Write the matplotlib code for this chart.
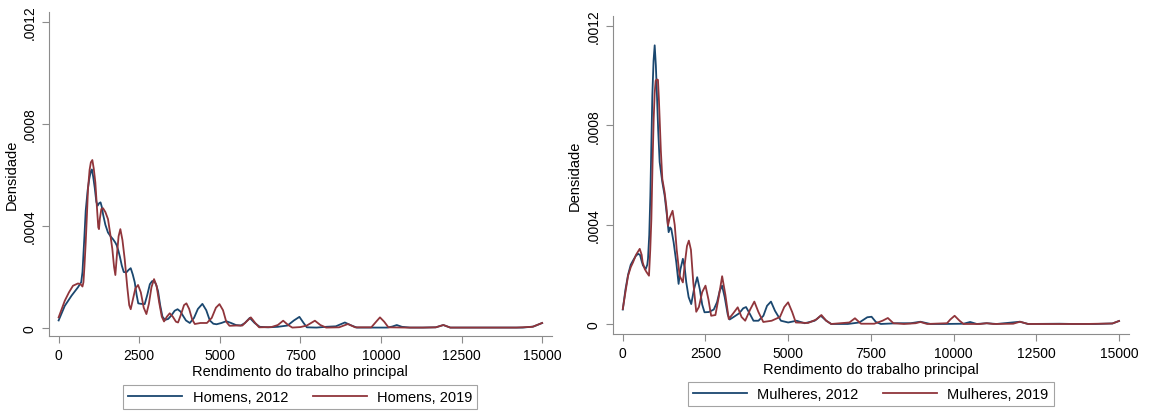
import numpy as np
import matplotlib.pyplot as plt

plt.rcParams['font.family'] = ['Liberation Sans', 'DejaVu Sans']

# densidade (valores em 1e-4)
hom_x_2012 = [0, 190, 400, 600, 700, 740, 770, 800, 840, 900, 950, 1000, 1030, 1070, 1120, 1170, 1210,
              1260, 1300, 1340, 1380, 1450, 1530, 1610, 1690, 1760, 1800, 1850, 1900, 1960, 2020, 2100,
              2170, 2236, 2300, 2360, 2420, 2470, 2560, 2670, 2750, 2830, 2900, 2960, 3020, 3084, 3150,
              3220, 3300, 3400, 3500, 3600, 3690, 3780, 3860, 3950, 4070, 4200, 4320, 4460, 4580, 4690,
              4800, 4900, 5050, 5200, 5350, 5500, 5650, 5780, 5930, 6080, 6240, 6500, 6800, 7100, 7300,
              7470, 7600, 7700, 8000, 8300, 8600, 8880, 9050, 9250, 9800, 10200, 10350, 10490, 10650,
              10900, 11300, 11700, 11935, 12150, 12600, 13200, 13800, 14400, 14730, 15000]
hom_y_2012 = [0.3, 0.87, 1.27, 1.6, 1.8, 2.2, 2.9, 3.6, 4.6, 5.4, 5.85, 6.15, 6.22, 5.95, 5.5, 4.95, 4.8,
              4.9, 4.93, 4.75, 4.45, 4.05, 3.75, 3.6, 3.48, 3.35, 3.25, 3.05, 2.8, 2.45, 2.2, 2.18,
              2.28, 2.35, 2.1, 1.8, 1.3, 0.97, 0.95, 0.94, 1.3, 1.72, 1.84, 1.85, 1.72, 1.45, 0.9,
              0.45, 0.32, 0.36, 0.5, 0.68, 0.74, 0.65, 0.48, 0.3, 0.2, 0.4, 0.75, 0.95, 0.7, 0.3,
              0.17, 0.15, 0.2, 0.27, 0.2, 0.12, 0.1, 0.2, 0.4, 0.2, 0.05, 0.03, 0.05, 0.1, 0.3,
              0.44, 0.2, 0.03, 0.02, 0.05, 0.07, 0.22, 0.12, 0.02, 0.02, 0.02, 0.06, 0.12, 0.05,
              0.02, 0.02, 0.03, 0.12, 0.02, 0.02, 0.02, 0.02, 0.02, 0.06, 0.2]

hom_x_2019 = [0, 190, 320, 445, 600, 680, 740, 770, 800, 840, 880, 911, 960, 1000, 1046, 1090, 1139,
              1190, 1230, 1252, 1280, 1325, 1377, 1450, 1532, 1600, 1666, 1720, 1760, 1810, 1860, 1915,
              1980, 2050, 2130, 2190, 2236, 2300, 2380, 2464, 2550, 2640, 2723, 2800, 2880, 2960, 3040,
              3120, 3200, 3270, 3360, 3447, 3540, 3640, 3705, 3800, 3890, 3964, 4050, 4140, 4224, 4400,
              4600, 4750, 4880, 4990, 5100, 5200, 5300, 5500, 5700, 5820, 5963, 6100, 6220, 6600, 6800,
              6966, 7120, 7250, 7500, 7700, 7950, 8120, 8300, 8700, 8975, 9200, 9700, 9850, 9969, 10100,
              10230, 10800, 11300, 11700, 11935, 12150, 12800, 13500, 14200, 14700, 15000]
hom_y_2019 = [0.42, 1.07, 1.4, 1.66, 1.75, 1.72, 1.63, 1.8, 2.4, 3.36, 4.5, 5.45, 6.2, 6.5, 6.59, 6.25, 5.71,
              4.7, 3.95, 3.88, 4.3, 4.67, 4.7, 4.55, 4.27, 3.7, 3.1, 2.4, 2.08, 2.9, 3.6, 3.88,
              3.45, 2.7, 1.6, 0.9, 0.74, 1.1, 1.55, 1.69, 1.4, 0.8, 0.55, 0.95, 1.6, 1.92, 1.65,
              1.0, 0.45, 0.26, 0.45, 0.58, 0.45, 0.25, 0.22, 0.55, 0.9, 0.97, 0.75, 0.35, 0.16, 0.2,
              0.2, 0.4, 0.8, 0.94, 0.7, 0.25, 0.09, 0.1, 0.1, 0.25, 0.42, 0.2, 0.03, 0.04, 0.12,
              0.29, 0.12, 0.02, 0.04, 0.1, 0.29, 0.12, 0.02, 0.03, 0.16, 0.03, 0.03, 0.25, 0.42, 0.25,
              0.03, 0.02, 0.02, 0.03, 0.12, 0.02, 0.02, 0.02, 0.02, 0.05, 0.2]

mul_x_2012 = [0, 80, 160, 240, 310, 390, 461, 520, 570, 611, 693, 740, 762, 800, 833, 860, 893, 930, 964,
              1000, 1033, 1070, 1114, 1195, 1265, 1334, 1386, 1430, 1466, 1536, 1617, 1687, 1740, 1816,
              1870, 1918, 1990, 2069, 2150, 2249, 2330, 2400, 2470, 2600, 2750, 2850, 2930, 3000, 3080,
              3172, 3230, 3350, 3520, 3640, 3726, 3830, 3950, 4100, 4250, 4360, 4479, 4600, 4780, 5000,
              5250, 5500, 5800, 5985, 6150, 6300, 6800, 7150, 7390, 7520, 7650, 7800, 8300, 8700, 8996,
              9300, 9700, 10300, 10500, 10700, 11000, 11300, 12006, 12250, 13200, 13600, 14300, 14800, 15000]
mul_y_2012 = [0.6, 1.4, 2.0, 2.4, 2.57, 2.75, 2.84, 2.8, 2.55, 2.37, 2.23, 2.4, 2.64, 3.6, 5.18, 7.0, 9.2, 10.6, 11.22,
              10.4, 9.2, 7.8, 6.53, 5.72, 5.18, 4.38, 3.71, 3.9, 3.84, 3.31, 2.5, 1.63, 2.2, 2.64,
              2.3, 1.7, 1.1, 0.82, 1.4, 1.9, 1.4, 0.8, 0.49, 0.5, 0.6, 0.9, 1.35, 1.56, 1.1,
              0.4, 0.2, 0.3, 0.45, 0.65, 0.7, 0.45, 0.15, 0.15, 0.35, 0.75, 0.92, 0.55, 0.15, 0.08,
              0.15, 0.05, 0.15, 0.35, 0.15, 0.02, 0.02, 0.08, 0.29, 0.31, 0.1, 0.02, 0.05, 0.05, 0.11,
              0.02, 0.02, 0.03, 0.1, 0.02, 0.05, 0.02, 0.11, 0.02, 0.03, 0.02, 0.02, 0.04, 0.14]

mul_x_2019 = [0, 80, 160, 240, 310, 400, 512, 570, 600, 663, 720, 792, 830, 864, 900, 934, 964, 994, 1030,
              1063, 1090, 1114, 1150, 1195, 1265, 1320, 1365, 1420, 1505, 1570, 1630, 1717, 1816, 1880,
              1940, 1997, 2060, 2130, 2220, 2300, 2400, 2500, 2590, 2671, 2800, 2900, 3003, 3100, 3203,
              3340, 3474, 3590, 3700, 3850, 3976, 4100, 4247, 4500, 4750, 4880, 4997, 5120, 5230, 5600,
              5850, 6003, 6150, 6300, 6850, 7018, 7200, 7600, 7850, 8012, 8180, 8500, 8850, 8996, 9200,
              9800, 9900, 10030, 10180, 10300, 10800, 11000, 11200, 11800, 12006, 12250, 13000, 14000,
              14800, 15000]
mul_y_2019 = [0.62, 1.3, 1.96, 2.3, 2.5, 2.8, 3.04, 2.8, 2.5, 2.23, 2.1, 1.96, 3.0, 4.24, 6.5, 8.27, 9.3, 9.8, 9.85,
              9.83, 9.1, 8.27, 7.0, 5.85, 5.31, 4.7, 3.97, 4.3, 4.57, 4.0, 3.0, 1.96, 1.69, 2.5,
              3.15, 3.37, 3.0, 1.7, 0.51, 0.7, 1.3, 1.56, 1.0, 0.35, 0.38, 1.1, 1.94, 1.2, 0.22,
              0.45, 0.69, 0.3, 0.15, 0.6, 0.92, 0.5, 0.1, 0.15, 0.3, 0.7, 0.89, 0.5, 0.08, 0.06,
              0.2, 0.38, 0.15, 0.02, 0.08, 0.25, 0.03, 0.03, 0.15, 0.26, 0.05, 0.02, 0.05, 0.1, 0.02,
              0.05, 0.2, 0.35, 0.15, 0.02, 0.02, 0.05, 0.02, 0.03, 0.11, 0.02, 0.02, 0.02,
              0.04, 0.14]

navy = '#1a476f'
maroon = '#90353b'
axcol = '#8c8c8c'

fig = plt.figure(figsize=(11.52, 4.14), dpi=100)
ax1 = fig.add_axes([0.0425, 0.186, 0.4365, 0.783])
ax2 = fig.add_axes([0.532, 0.191, 0.448, 0.768])


def panel(ax, x1, y1, x2, y2, lab1, lab2, ylim):
    ax.plot(x1, np.array(y1) * 1e-4, color=navy, lw=1.3, label=lab1)
    ax.plot(x2, np.array(y2) * 1e-4, color=maroon, lw=1.3, label=lab2)
    ax.set_xlim(-300, 15300)
    ax.set_ylim(*ylim)
    ax.set_xticks(range(0, 15001, 2500))
    ax.set_yticks([0, 0.0004, 0.0008, 0.0012])
    ax.set_yticklabels(['0', '.0004', '.0008', '.0012'], rotation=90, va='center')
    ax.tick_params(direction='out', length=5, color=axcol, labelsize=10, pad=4)
    for s in ['top', 'right']:
        ax.spines[s].set_visible(False)
    for s in ['left', 'bottom']:
        ax.spines[s].set_color(axcol)
    ax.set_xlabel('Rendimento do trabalho principal', fontsize=10.5, labelpad=1)
    ax.set_ylabel('Densidade', fontsize=10.5, labelpad=3)
    leg = ax.legend(loc='upper center', bbox_to_anchor=(0.5, -0.15), ncol=2, fontsize=10.5,
                    frameon=True, fancybox=False, handlelength=3.7, handletextpad=0.7,
                    columnspacing=1.7, borderpad=0.35, borderaxespad=0, edgecolor=axcol)
    leg.get_frame().set_linewidth(0.8)


panel(ax1, hom_x_2012, hom_y_2012, hom_x_2019, hom_y_2019, 'Homens, 2012', 'Homens, 2019',
      (-0.000031, 0.00124))
panel(ax2, mul_x_2012, mul_y_2012, mul_x_2019, mul_y_2019, 'Mulheres, 2012', 'Mulheres, 2019',
      (-0.000038, 0.00124))

fig.savefig('out.png', dpi=100)
